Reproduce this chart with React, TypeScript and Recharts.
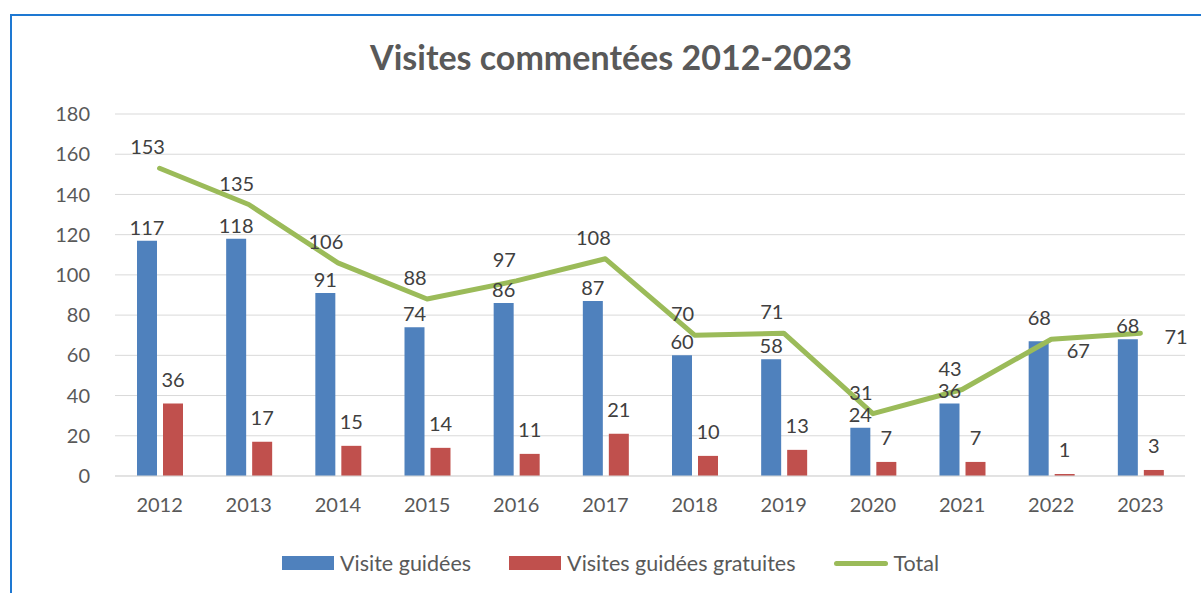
import { ComposedChart, Bar, Line, XAxis, YAxis, CartesianGrid, LabelList } from 'recharts'

const years = ['2012', '2013', '2014', '2015', '2016', '2017', '2018', '2019', '2020', '2021', '2022', '2023']
const visiteGuidees = [117, 118, 91, 74, 86, 87, 60, 58, 24, 36, 67, 68]
const visitesGratuites = [36, 17, 15, 14, 11, 21, 10, 13, 7, 7, 1, 3]
const totals = [153, 135, 106, 88, 97, 108, 70, 71, 31, 43, 68, 71]
const yTicks = [0, 20, 40, 60, 80, 100, 120, 140, 160, 180]

const BLUE = '#4f81bd'
const RED = '#c0504d'
const GREEN = '#9bbb59'
const LABEL = '#404040'
const FONT = 'Lato, "Noto Sans", sans-serif'

const data = years.map((year, i) => ({
  year,
  guidees: visiteGuidees[i],
  gratuites: visitesGratuites[i],
  total: totals[i],
}))

// how close the total is to the blue bar, used to dodge overlapping labels
const gap = (i: number) => totals[i] - visiteGuidees[i]

const BlueLabel = (props: any) => {
  const { x, y, width, value, index } = props
  if (gap(index) <= 1) {
    // total sits right on the bar top: push the label to the right
    return (
      <text x={x + width + 18} y={y + 17} fill={LABEL} fontSize={20} fontFamily={FONT}>
        {value}
      </text>
    )
  }
  return (
    <text x={x + width / 2} y={y - 6} textAnchor="middle" fill={LABEL} fontSize={20} fontFamily={FONT}>
      {value}
    </text>
  )
}

// total labels sit up and to the left of the point, like Excel does
const TotalLabel = (props: any) => {
  const { x, y, value, index } = props
  if (gap(index) > 1 && gap(index) < 5) {
    return (
      <text x={x + 24} y={y + 11} fill={LABEL} fontSize={20} fontFamily={FONT}>
        {value}
      </text>
    )
  }
  return (
    <text x={x - 12} y={y - 14} textAnchor="middle" fill={LABEL} fontSize={20} fontFamily={FONT}>
      {value}
    </text>
  )
}

const legendItems = [
  { name: 'Visite guidées', color: BLUE, kind: 'bar' },
  { name: 'Visites guidées gratuites', color: RED, kind: 'bar' },
  { name: 'Total', color: GREEN, kind: 'line' },
]

export default function App() {
  return (
    <div
      style={{
        position: 'absolute',
        left: 10,
        top: 14,
        width: 1191,
        height: 579,
        boxSizing: 'border-box',
        borderLeft: '2px solid #1e78d2',
        borderTop: '2px solid #1e78d2',
        background: '#fff',
        fontFamily: FONT,
      }}
    >
      <div
        style={{
          position: 'absolute',
          left: 0,
          width: 1198,
          top: 20,
          textAlign: 'center',
          fontSize: 34,
          fontWeight: 700,
          color: '#595959',
        }}
      >
        Visites commentées 2012-2023
      </div>

      <ComposedChart
        width={1189}
        height={577}
        data={data}
        margin={{ top: 98, right: 16, left: 0, bottom: 87 }}
        barSize={20}
        barGap={6}
      >
        <CartesianGrid stroke="#d9d9d9" vertical={false} />
        <XAxis
          dataKey="year"
          axisLine={{ stroke: '#d9d9d9' }}
          tickLine={false}
          tickMargin={16}
          tick={{ fill: '#595959', fontSize: 20, fontFamily: FONT }}
        />
        <YAxis
          width={103}
          domain={[0, 180]}
          ticks={yTicks}
          axisLine={false}
          tickLine={false}
          tickMargin={19}
          tick={{ fill: '#595959', fontSize: 20, fontFamily: FONT }}
        />

        <Bar dataKey="guidees" fill={BLUE} isAnimationActive={false}>
          <LabelList dataKey="guidees" content={<BlueLabel />} />
        </Bar>
        <Bar dataKey="gratuites" fill={RED} isAnimationActive={false}>
          <LabelList dataKey="gratuites" position="top" offset={17} fill={LABEL} fontSize={20} fontFamily={FONT} />
        </Bar>
        <Line
          type="linear"
          dataKey="total"
          stroke={GREEN}
          strokeWidth={5}
          strokeLinecap="round"
          strokeLinejoin="round"
          dot={false}
          isAnimationActive={false}
        >
          <LabelList dataKey="total" content={<TotalLabel />} />
        </Line>
      </ComposedChart>

      {/* legend */}
      <div
        style={{
          position: 'absolute',
          left: 270,
          top: 534,
          display: 'flex',
          alignItems: 'center',
          gap: 38,
          fontSize: 21.5,
          color: '#595959',
        }}
      >
        {legendItems.map((item) => (
          <div key={item.name} style={{ display: 'flex', alignItems: 'center', gap: 6 }}>
            {item.kind === 'bar' ? (
              <div style={{ width: 52, height: 14, background: item.color }} />
            ) : (
              <div style={{ width: 54, height: 5, borderRadius: 3, background: item.color }} />
            )}
            <span>{item.name}</span>
          </div>
        ))}
      </div>
    </div>
  )
}
